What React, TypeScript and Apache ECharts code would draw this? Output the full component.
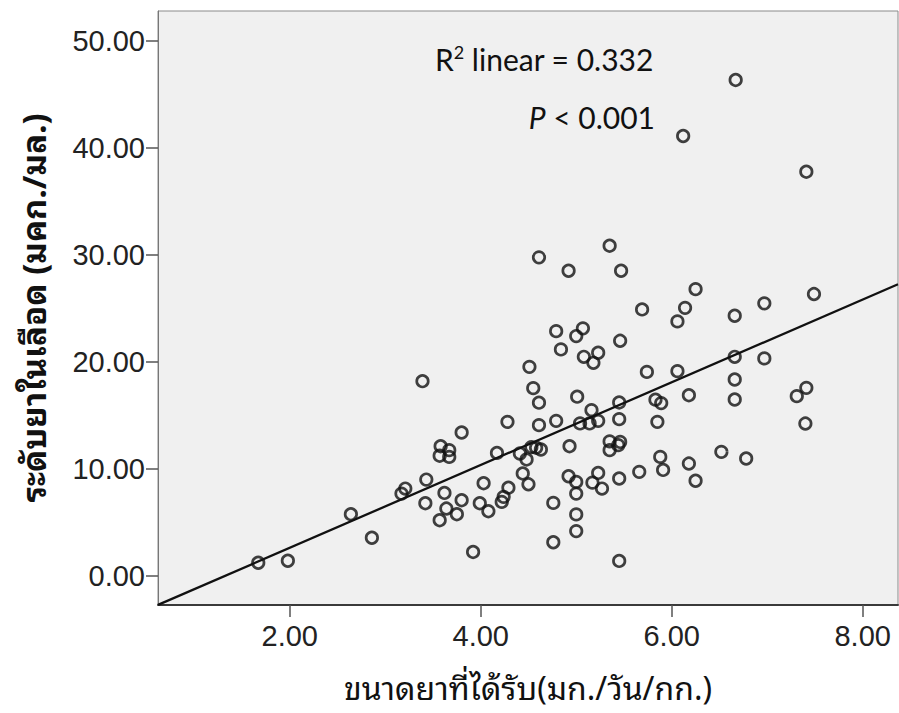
import React, { useEffect, useRef } from "react";
import * as echarts from "echarts";

// Daily dose (mg/day/kg) for each patient
const DOSE = [
  1.67, 1.98, 2.64, 2.86, 3.17, 3.21, 3.43, 3.42, 3.39, 3.62,
  3.64, 3.57, 3.75, 3.80, 3.80, 3.58, 3.57, 3.67, 3.67, 3.92,
  3.99, 4.03, 4.08, 4.17, 4.22, 4.24, 4.29, 4.28, 4.41, 4.44,
  4.48, 4.50, 4.53, 4.58, 4.63, 4.61, 4.61, 4.55, 4.51, 4.76,
  4.76, 4.79, 4.93, 4.92, 5.00, 5.00, 5.00, 5.00, 5.01, 5.04,
  5.14, 5.16, 5.23, 5.23, 5.17, 5.27, 5.35, 5.35, 5.46, 5.44,
  5.45, 5.45, 5.45, 5.45, 5.66, 5.83, 5.89, 5.85, 5.88, 5.91,
  6.18, 6.25, 6.52, 6.78, 6.18, 6.66, 6.97, 6.66, 6.66, 7.41,
  7.31, 7.40, 5.74, 6.06, 5.69, 6.14, 6.06, 6.25, 7.49, 6.97,
  6.66, 5.47, 4.92, 4.61, 5.35, 6.67, 6.12, 7.41, 4.79, 5.07,
  5.00, 5.46, 4.84, 5.08, 5.23, 5.18,
];

// Blood level (mcg/ml) for the same patients
const LEVEL = [
  1.20, 1.39, 5.74, 3.54, 7.67, 8.14, 8.98, 6.77, 18.18, 7.73,
  6.27, 5.18, 5.74, 7.05, 13.38, 12.10, 11.21, 11.73, 11.10, 2.21,
  6.77, 8.64, 6.02, 11.47, 6.89, 7.36, 8.22, 14.38, 11.42, 9.55,
  10.86, 8.54, 12.01, 11.96, 11.79, 14.07, 16.17, 17.53, 19.52, 6.80,
  3.12, 14.47, 12.10, 9.29, 8.76, 7.67, 5.72, 4.16, 16.73, 14.23,
  14.23, 15.47, 14.47, 9.60, 8.69, 8.14, 12.55, 11.73, 12.50, 12.20,
  9.08, 14.63, 16.19, 1.37, 9.70, 16.45, 16.13, 14.38, 11.10, 9.88,
  10.48, 8.87, 11.57, 10.95, 16.87, 20.46, 20.31, 18.34, 16.47, 17.56,
  16.78, 14.22, 19.05, 19.12, 24.89, 25.04, 23.77, 26.79, 26.33, 25.46,
  24.30, 28.51, 28.51, 29.76, 30.85, 46.35, 41.11, 37.77, 22.86, 23.12,
  22.40, 21.96, 21.15, 20.46, 20.84, 19.90,
];

// Ends of the fitted regression line
const FIT_LINE = [
  [0.62, -2.74],
  [8.37, 27.25],
];

const X_TICKS = [2, 4, 6, 8];
const Y_TICKS = [0, 10, 20, 30, 40, 50];

const X_TITLE = "ขนาดยาที่ได้รับ(มก./วัน/กก.)";
const Y_TITLE = "ระดับยาในเลือด (มคก./มล.)";
const R2_TEXT = " linear = 0.332";
const P_TEXT = " < 0.001";

const THAI_FONT = "'Noto Sans Thai Looped', Tahoma, Loma, Garuda, 'Noto Sans Thai', 'Noto Sans', sans-serif";
const NUM_FONT = "'Liberation Sans', Arial, sans-serif";
const NOTE_FONT = "Lato, 'Open Sans', sans-serif";

export default function App() {
  const ref = useRef<HTMLDivElement>(null);

  useEffect(() => {
    if (!ref.current) return;
    const chart = echarts.init(ref.current, undefined, { renderer: "svg" });
    const points = DOSE.map((d, i) => [d, LEVEL[i]]);

    chart.setOption({
      animation: false,
      backgroundColor: "#ffffff",
      grid: {
        left: 158,
        top: 11,
        right: 1,
        bottom: 108,
        show: true,
        backgroundColor: "#f0f0f0",
        borderColor: "#8a8a8a",
        borderWidth: 1,
      },
      xAxis: {
        type: "value",
        min: 0.62,
        max: 8.37,
        name: X_TITLE,
        nameLocation: "middle",
        nameGap: 64,
        nameTextStyle: { fontFamily: THAI_FONT, fontSize: 32, color: "#111" },
        axisLine: { show: true, onZero: false, lineStyle: { color: "#3a3a3a", width: 2 } },
        axisTick: { show: true, length: 12, customValues: X_TICKS, lineStyle: { color: "#555", width: 1.5 } },
        axisLabel: {
          customValues: X_TICKS,
          margin: 16,
          fontFamily: NUM_FONT,
          fontSize: 29,
          color: "#222",
          formatter: (v: number) => v.toFixed(2),
        },
        splitLine: { show: false },
      },
      yAxis: {
        type: "value",
        min: -2.75,
        max: 52.8,
        name: Y_TITLE,
        nameLocation: "middle",
        nameRotate: 90,
        nameGap: 110,
        nameTextStyle: { fontFamily: THAI_FONT, fontSize: 33, fontWeight: "bold", color: "#111" },
        axisLine: { show: true, onZero: false, lineStyle: { color: "#777", width: 1 } },
        axisTick: { show: true, length: 12, customValues: Y_TICKS, lineStyle: { color: "#555", width: 1.5 } },
        axisLabel: {
          customValues: Y_TICKS,
          margin: 13,
          fontFamily: NUM_FONT,
          fontSize: 29,
          color: "#222",
          formatter: (v: number) => v.toFixed(2),
        },
        splitLine: { show: false },
      },
      series: [
        {
          type: "scatter",
          data: points,
          symbol: "circle",
          symbolSize: 11.5,
          itemStyle: { color: "transparent", borderColor: "#111", borderWidth: 2.7 },
          z: 3,
        },
        {
          type: "line",
          data: FIT_LINE,
          showSymbol: false,
          symbol: "none",
          lineStyle: { color: "#111", width: 2.3 },
          z: 2,
        },
      ],
      graphic: [
        {
          type: "text",
          right: 899 - 654,
          top: 43,
          style: {
            text: "{r|R}{s|2}{r|" + R2_TEXT + "}",
            rich: {
              r: { fontFamily: NOTE_FONT, fontSize: 30, fill: "#111", verticalAlign: "bottom" },
              s: { fontFamily: NOTE_FONT, fontSize: 18, fill: "#111", verticalAlign: "top", padding: [0, 0, 13, 0] },
            },
          },
        },
        {
          type: "text",
          right: 899 - 655,
          top: 102,
          style: {
            text: "{i|P}{r|" + P_TEXT + "}",
            rich: {
              i: { fontFamily: NOTE_FONT, fontSize: 30, fontStyle: "italic", fill: "#111" },
              r: { fontFamily: NOTE_FONT, fontSize: 30, fill: "#111" },
            },
          },
        },
      ],
    });

    return () => chart.dispose();
  }, []);

  return (
    <div
      ref={ref}
      style={{ position: "fixed", left: 0, top: 0, width: 899, height: 713 }}
    />
  );
}
